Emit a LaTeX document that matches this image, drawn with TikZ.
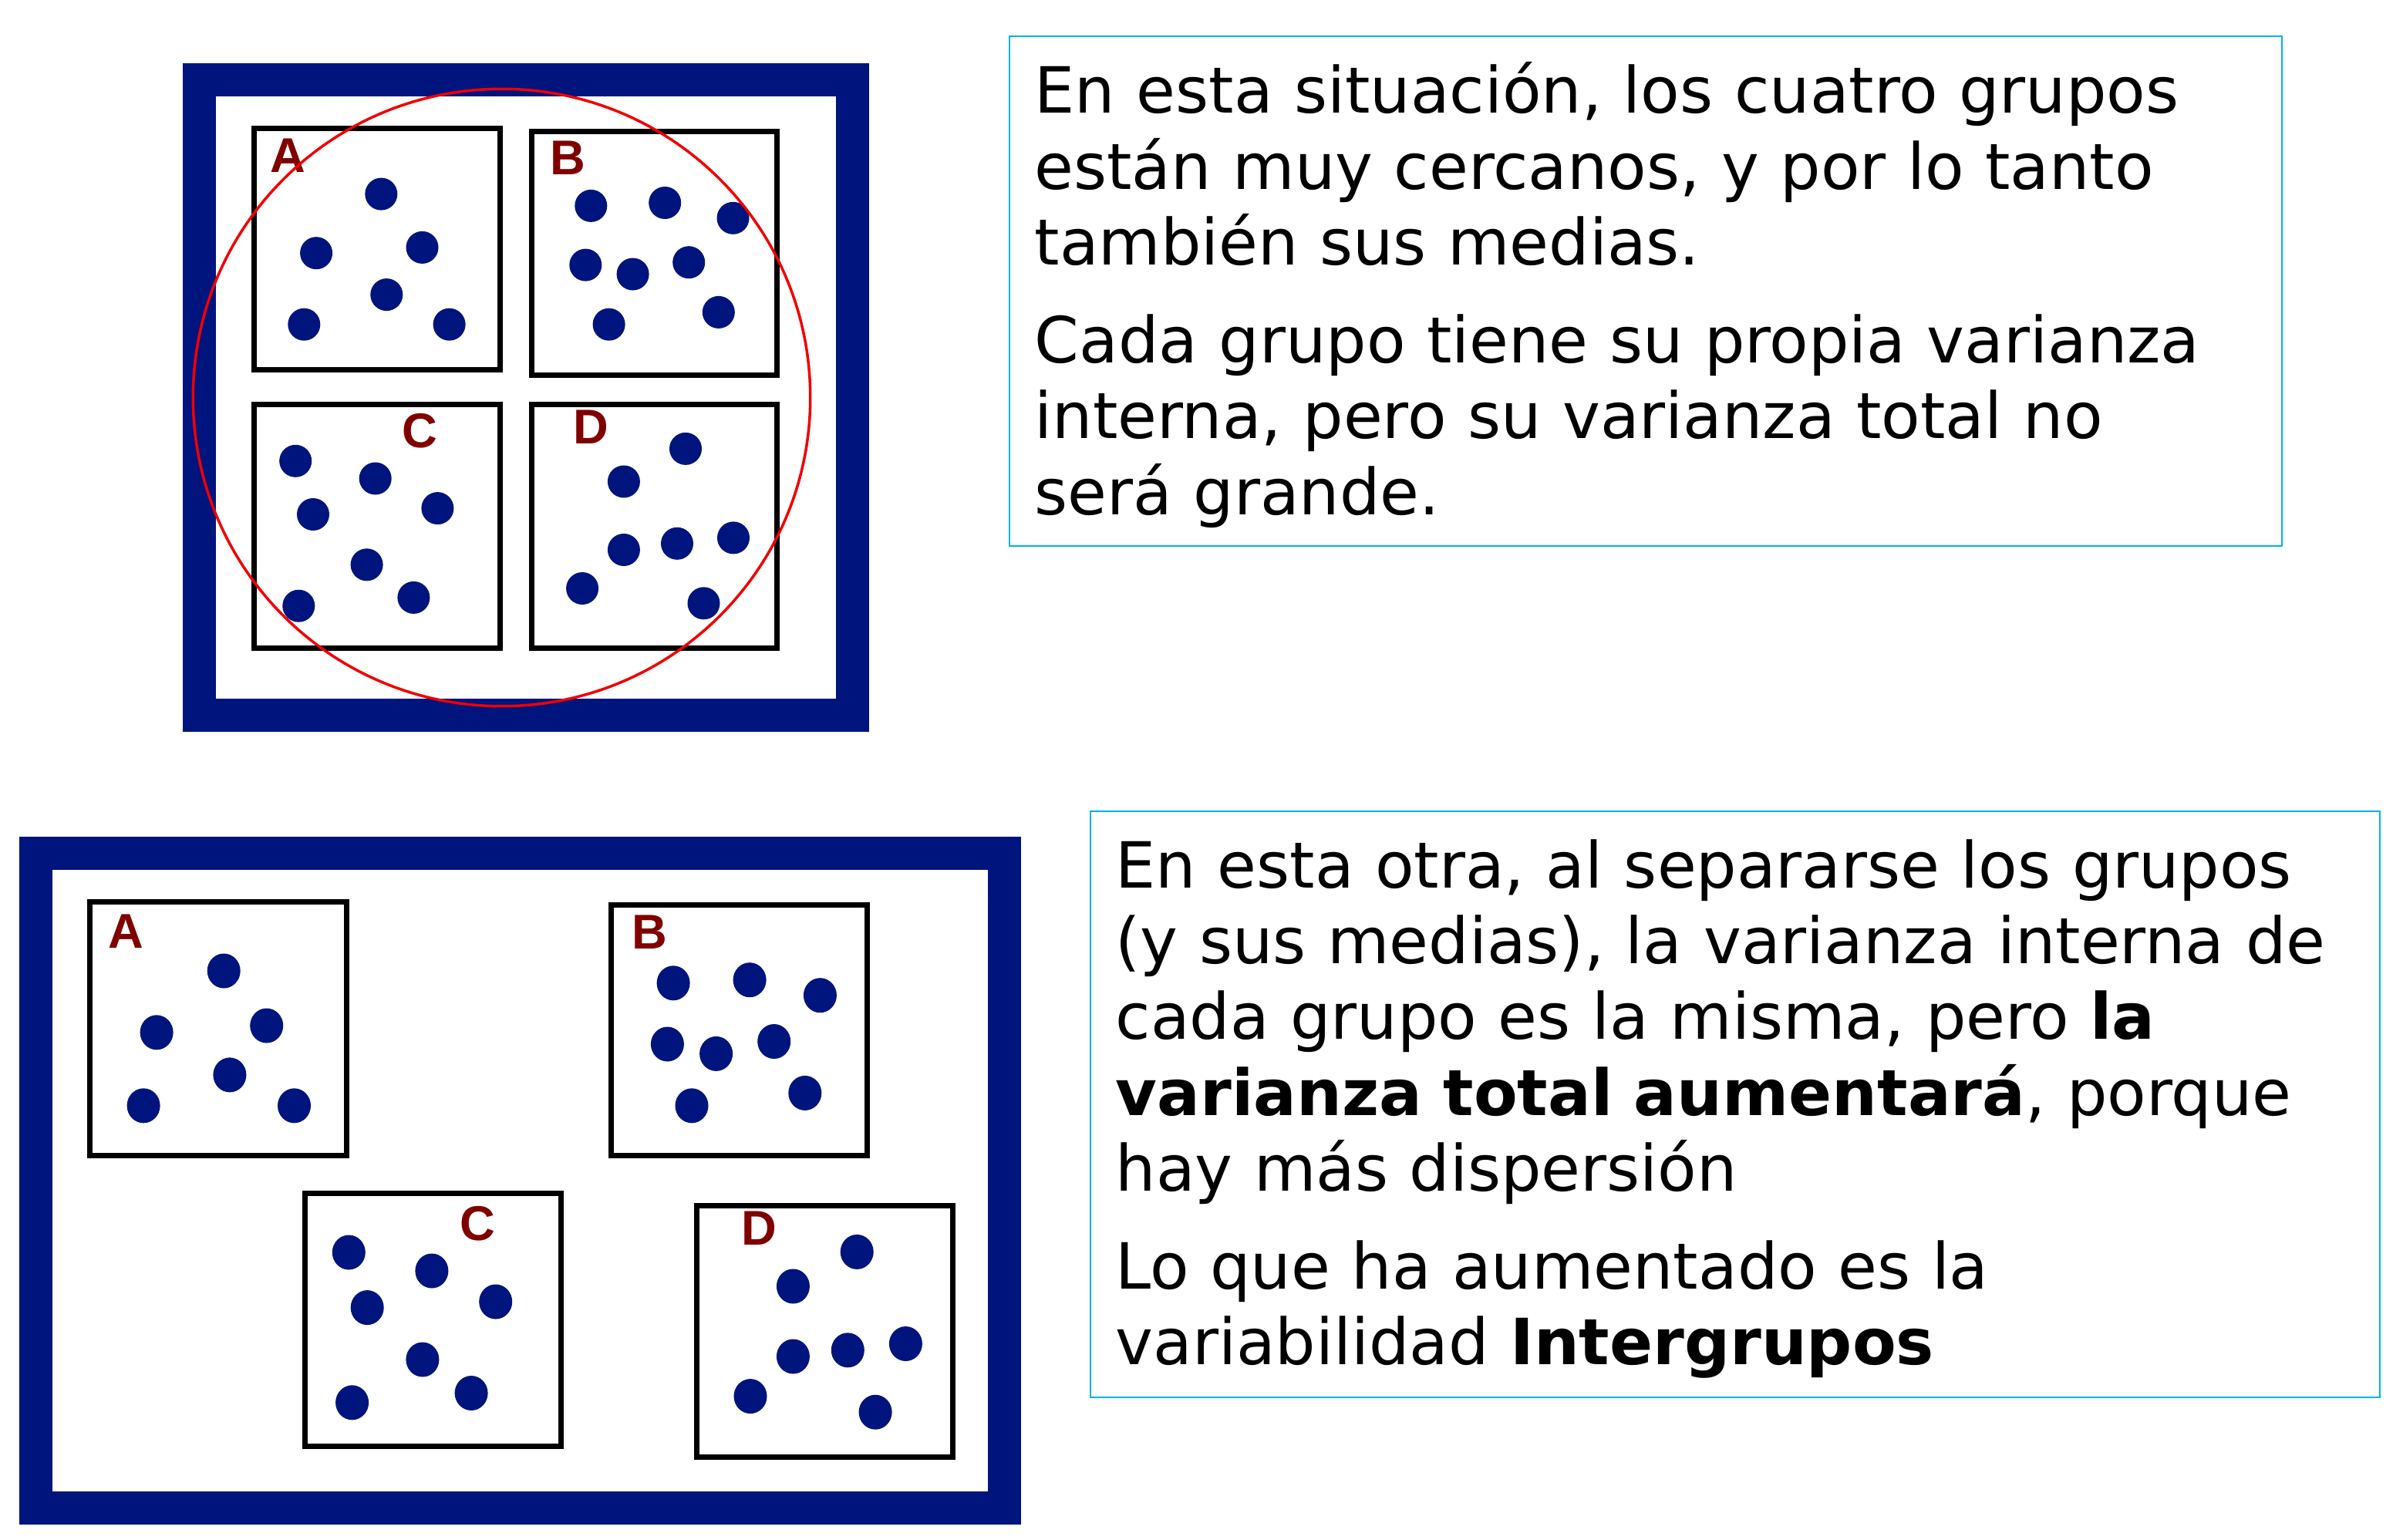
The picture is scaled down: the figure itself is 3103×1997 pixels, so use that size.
\documentclass[tikz,border=0pt]{standalone}
\usepackage{fontspec}
\setmainfont{DejaVu Sans}
\newfontfamily\labelfont{Liberation Sans}
\usetikzlibrary{positioning}
\definecolor{navy}{RGB}{0,20,125}
\definecolor{groupred}{RGB}{128,0,0}
\definecolor{boxcyan}{RGB}{0,176,240}
\definecolor{circred}{RGB}{240,0,0}

\tikzset{
    outerframe/.style={draw=navy, line width=0.43cm},
    groupbox/.style={draw=black, line width=0.07cm},
    grouplabel/.style={text=groupred, inner sep=0pt, font=\labelfont\bfseries\fontsize{18}{18}\selectfont},
    textframe/.style={draw=boxcyan, line width=0.023cm},
    bodytext/.style={anchor=base west, inner sep=0pt, text width=17cm, align=left, font=\fontsize{23.5}{28}\selectfont},
    dot/.style={fill=navy}
}

\begin{document}
\begin{tikzpicture}[x=0.01cm, y=-0.01cm]
    \useasboundingbox (0,0) rectangle (3103,1997);

    % Top: groups close together
    \draw[outerframe] (258.7,103.7) rectangle (1105.5,927.5);
    \draw[groupbox] (329.4,166.5) rectangle (648.1,479.8);
    \draw[groupbox] (689.1,170.5) rectangle (1007.8,486);
    \draw[groupbox] (329.4,524) rectangle (648.1,840.2);
    \draw[groupbox] (689.1,524) rectangle (1007.8,840.2);

    \node[grouplabel] (topA) at (373.3,201.7) {A};
    \node[grouplabel] (topB) at (736.4,204.5) {B};
    \node[grouplabel] (topC) at (544,559.2) {C};
    \node[grouplabel] (topD) at (766.8,553.5) {D};

    \foreach \x/\y in {494.3/251.6, 410.1/328.2, 547.5/320.9, 501.3/382.1, 394.3/420.7, 582.6/420.7,
        766.3/266.9, 862.2/263, 950.5/282.8, 759.3/343.6, 820.6/355.5, 893.2/340.2, 789.6/420.7, 931.8/404.9,
        383.2/597.8, 486.7/620.5, 406/667, 567.4/659.1, 475.6/732.3, 536.4/774.9, 387.3/785.7,
        889/581.9, 808.9/624.5, 808.9/713, 878/704.8, 951/697.4, 755.1/763, 912.5/782.3}
        \fill[dot] (\x,\y) circle[radius=0.21cm];

    \draw[circred, line width=0.035cm] (650.5,515.5) circle[radius=4cm];

    % Bottom: groups far apart
    \draw[outerframe] (46.5,1106.5) rectangle (1302.5,1955.5);
    \draw[groupbox] (116.9,1169.8) rectangle (449.8,1498.4);
    \draw[groupbox] (792,1173.9) rectangle (1124,1498.4);
    \draw[groupbox] (395.2,1547.1) rectangle (727.2,1875.2);
    \draw[groupbox] (903,1563) rectangle (1235,1889.8);

    \node[grouplabel] (botA) at (163,1207.9) {A};
    \node[grouplabel] (botB) at (842.4,1209.1) {B};
    \node[grouplabel] (botC) at (619.6,1586.4) {C};
    \node[grouplabel] (botD) at (984,1592.3) {D};

    \foreach \x/\y in {290.2/1259, 203.1/1338.8, 345.7/1330, 297.9/1393.9, 186.1/1433.8, 381.5/1433.8,
        873.1/1274.8, 972.1/1270.7, 1063.4/1290.7, 865.4/1354, 928.6/1366.4, 1003.7/1350.5, 897/1433.8, 1043.8/1417.4,
        452.3/1624, 559.9/1648, 476.2/1695.6, 642.7/1688, 547.9/1763, 611.1/1806.5, 456.6/1818.8,
        1111.2/1623.4, 1028.4/1668, 1028.4/1759, 1099.3/1750.8, 1174.4/1742.5, 973/1810.6, 1135.1/1831.2}
        \fill[dot] (\x,\y) ellipse[x radius=0.215cm, y radius=0.225cm];

    % Text boxes
    \draw[textframe] (1309,47.3) rectangle (2959.3,708.3);
    \node[bodytext] (textTop) at (1341,146.7) {En esta situación, los cuatro grupos\\
        están muy cercanos, y por lo tanto\\
        también sus medias.\\[8pt]
        Cada grupo tiene su propia varianza\\
        interna, pero su varianza total no\\
        será grande.};

    \draw[textframe] (1414,1051.7) rectangle (3086.3,1812.3);
    \node[bodytext] (textBot) at (1446,1151) {En esta otra, al separarse los grupos\\
        (y sus medias), la varianza interna de\\
        cada grupo es la misma, pero \textbf{la}\\
        \textbf{varianza total aumentará}, porque\\
        hay más dispersión\\[8pt]
        Lo que ha aumentado es la\\
        variabilidad \textbf{Intergrupos}};
\end{tikzpicture}
\end{document}
